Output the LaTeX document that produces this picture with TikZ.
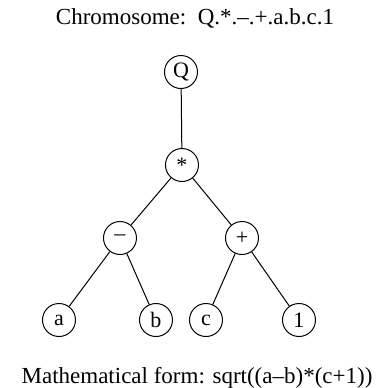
\documentclass[tikz,border=0pt]{standalone}
\usepackage{fontspec}
\setmainfont{Liberation Serif}
\begin{document}
\begin{tikzpicture}[x=0.5pt,y=-0.5pt,line width=0.5pt,
    gene/.style={draw,circle,inner sep=0pt,minimum size=16.5pt,font=\fontsize{11}{13}\selectfont}]
            \useasboundingbox (0,0) rectangle (381,388);
            \node (title) at (195,18) {\fontsize{11.5}{14}\selectfont Chromosome:\ \ Q.*.–.+.a.b.c.1};
            \node[gene] (q) at (181,72) {Q};
            \node[gene] (mul) at (182,165) {*};
            \node[gene] (sub) at (120,238) {–};
            \node[gene] (add) at (242,238) {+};
            \node[gene] (a) at (59,320) {a};
            \node[gene] (b) at (156,320) {b};
            \node[gene] (c) at (206,320) {c};
            \node[gene] (one) at (299,320) {1};
            \draw (q) -- (mul);
            \draw (mul) -- (sub);
            \draw (mul) -- (add);
            \draw (sub) -- (a);
            \draw (sub) -- (b);
            \draw (add) -- (c);
            \draw (add) -- (one);
            \node (form) at (197,378) {\fontsize{11.5}{14}\selectfont Mathematical form: sqrt((a–b)*(c+1))};
        \end{tikzpicture}
\end{document}
